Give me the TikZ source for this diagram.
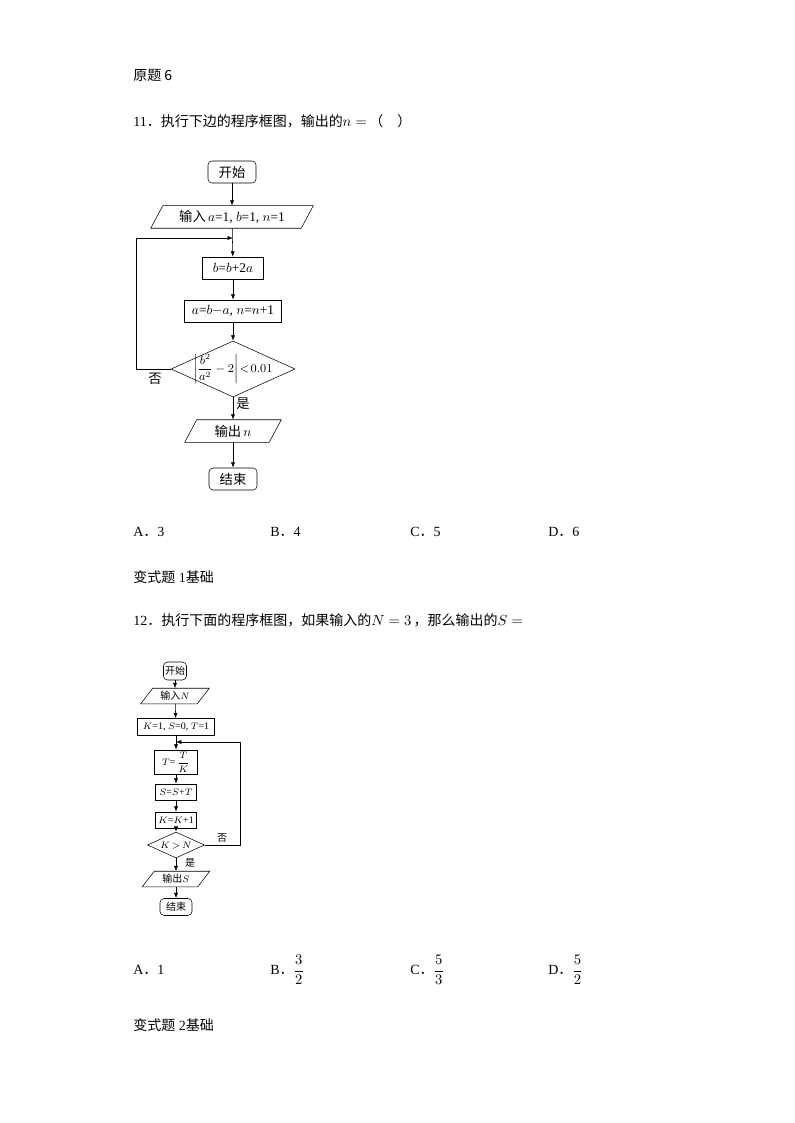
\documentclass[tikz,border=0pt]{standalone}
\usepackage{amsmath}
\usepackage{fontspec}
\setmainfont{Liberation Serif}
\newfontfamily\cjk{Noto Sans CJK SC}
\usetikzlibrary{shapes.geometric,arrows.meta}
\newcommand{\para}[6]{%
  \node[inner sep=0pt,minimum width=#4*0.75pt,minimum height=#5*0.75pt] (#1) at (#2,#3) {#6};
  \draw ([xshift=4.5pt]#1.north west) -- ([xshift=4.5pt]#1.north east) -- ([xshift=-4.5pt]#1.south east) -- ([xshift=-4.5pt]#1.south west) -- cycle;}
\begin{document}
\begin{tikzpicture}[x=0.75pt,y=-0.75pt,
  txt/.style={anchor=west,inner sep=0pt,font=\fontsize{10.5pt}{12pt}\selectfont},
  rbox/.style={draw,rounded corners=3pt,inner sep=0pt},
  pbox/.style={draw,inner sep=0pt},
  arr/.style={-{Latex[length=4pt,width=3pt]}},
  fa/.style={font=\fontsize{10pt}{12pt}\selectfont},
  fb/.style={font=\fontsize{7.5pt}{9pt}\selectfont}]
\useasboundingbox[fill=white] (0,0) rectangle (794,1123);
\node[txt] (t0) at (133,75) {\cjk 原题 6};
\node[txt] (t1) at (133,121) {11{\cjk ．执行下边的程序框图，输出的}$n=$\,{\cjk （　）}};
% chart 1
\begin{scope}[fa]
\node[rbox,minimum width=36pt,minimum height=16.5pt] (s1) at (232,172) {\cjk 开始};
\para{i1}{232}{217}{150}{22}{{\cjk 输入}\,$a$=1, $b$=1, $n$=1}
\node[pbox,minimum width=45.75pt,minimum height=16.5pt] (b1) at (233,268) {$b$=$b$+2$a$};
\node[pbox,minimum width=72.75pt,minimum height=16.5pt] (b2) at (233,311) {$a$=$b$$-$$a$, $n$=$n$+1};
\node[diamond,draw,inner sep=0pt,minimum width=93pt,minimum height=42pt] (d1) at (233,369) {};
\node[font=\fontsize{9pt}{10pt}\selectfont] at (233,369) {$\left|\dfrac{b^2}{a^2}-2\right|\!<\!0.01$};
\para{o1}{233}{431}{84}{22}{{\cjk 输出}\,$n$}
\node[rbox,minimum width=36pt,minimum height=16.5pt] (e1) at (233,479) {\cjk 结束};
\coordinate (j1) at (233,238);
\coordinate (l1) at (136,369);
\coordinate (l2) at (136,238);
\draw[arr] (s1) -- (i1);
\draw[arr] (i1) -- (b1);
\draw[arr] (b1) -- (b2);
\draw[arr] (b2) -- (d1);
\draw[arr] (d1) -- (o1);
\draw[arr] (o1) -- (e1);
\draw[arr] (d1.west) -- (l1) -- (l2) -- (j1);
\node at (155,379) {\cjk 否};
\node at (243,404) {\cjk 是};
\end{scope}
\node[txt] (a1) at (133,532) {A{\cjk ．}3};
\node[txt] (a2) at (270,532) {B{\cjk ．}4};
\node[txt] (a3) at (410,532) {C{\cjk ．}5};
\node[txt] (a4) at (548,532) {D{\cjk ．}6};
\node[txt] (t2) at (133,577) {{\cjk 变式题} 1{\cjk 基础}};
\node[txt] (t3) at (133,620) {12{\cjk ．执行下面的程序框图，如果输入的}$N=3$\,{\cjk ，那么输出的}$S=$};
% chart 2
\begin{scope}[fb]
\node[rbox,minimum width=17.25pt,minimum height=13.5pt] (s2) at (175,671) {\cjk 开始};
\para{i2}{175}{696}{56}{15}{{\cjk 输入}$N$}
\node[pbox,minimum width=57.75pt,minimum height=12.75pt] (k2) at (176,727) {$K$=1, $S$=0, $T$=1};
\node[pbox,minimum width=32.25pt,minimum height=18pt] (t2b) at (176,762) {$T$=\,$\dfrac{T}{K}$};
\node[pbox,minimum width=30.75pt,minimum height=12pt] (s2b) at (176,792) {$S$=$S$+$T$};
\node[pbox,minimum width=30.75pt,minimum height=12pt] (k2b) at (176,820) {$K$=$K$+1};
\node[diamond,draw,inner sep=0pt,minimum width=42.75pt,minimum height=19.5pt] (d2) at (176,845) {};
\node at (176,846) {$K\,{>}\,N$};
\para{o2}{176}{879}{55}{15}{{\cjk 输出}$S$}
\node[rbox,minimum width=24pt,minimum height=12.75pt] (e2) at (176,907) {\cjk 结束};
\coordinate (j2) at (176,742);
\coordinate (r1) at (240,845);
\coordinate (r2) at (240,742);
\draw[arr] (s2) -- (i2);
\draw[arr] (i2) -- (k2);
\draw[arr] (k2) -- (t2b);
\draw[arr] (t2b) -- (s2b);
\draw[arr] (s2b) -- (k2b);
\draw[arr] (k2b) -- (d2);
\draw[arr] (d2) -- (o2);
\draw[arr] (o2) -- (e2);
\draw[arr] (d2.east) -- (r1) -- (r2) -- (j2);
\node at (222,838) {\cjk 否};
\node at (190,863) {\cjk 是};
\end{scope}
\node[txt] (c1) at (133,970) {A{\cjk ．}1};
\node[txt] (c2) at (270,970) {B{\cjk ．}$\dfrac{3}{2}$};
\node[txt] (c3) at (410,970) {C{\cjk ．}$\dfrac{5}{3}$};
\node[txt] (c4) at (548,970) {D{\cjk ．}$\dfrac{5}{2}$};
\node[txt] (t4) at (133,1025) {{\cjk 变式题} 2{\cjk 基础}};
\end{tikzpicture}
\end{document}
